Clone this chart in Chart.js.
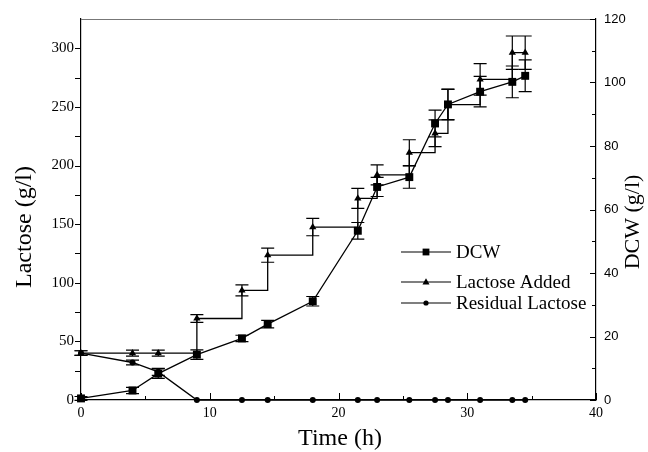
<!DOCTYPE html>
<html>
<head>
<meta charset="utf-8">
<script src="https://cdn.jsdelivr.net/npm/chart.js@4"></script>
<style>
  body { margin: 0; background: #fff; }
  canvas { display: block; }
</style>
</head>
<body>
<canvas id="chart" width="648" height="452"></canvas>
<script>
// ===================================
// DATA
// ===================================

// Sampling times (h)
const hours = [0, 4, 6, 9, 12.5, 14.5, 18, 21.5, 23, 25.5, 27.5, 28.5, 31, 33.5, 34.5];

// Dry cell weight (g/l) - right axis
const dcw = [0.5, 3.0, 8.3, 14.3, 19.4, 23.9, 31.1, 53.3, 67.1, 70.2, 87.1, 93.1, 97.1, 100.2, 102.1];
const dcwErr = [0.6, 1.0, 1.5, 1.5, 1.0, 1.2, 1.5, 2.6, 3.0, 3.5, 4.2, 4.8, 4.8, 5.0, 5.0];

// Cumulative lactose added (g/l) - left axis
const lactoseAdded = [40, 40, 40, 69.5, 93.5, 123.5, 147.5, 172, 192, 211, 227.5, 252, 273.5, 296.3, 296.3];
const lactoseAddedErr = [2, 2.5, 2.5, 3.3, 4.7, 6, 7.4, 8.5, 8.5, 11, 11.4, 13, 13.4, 14.2, 14.2];

// Residual lactose (g/l) - left axis
const residualLactose = [40, 32, 24, 0, 0, 0, 0, 0, 0, 0, 0, 0, 0, 0, 0];
const residualErr = [2, 2, 3, 0, 0, 0, 0, 0, 0, 0, 0, 0, 0, 0, 0];

// Axes
const xTicksMajor = [0, 10, 20, 30, 40];
const xTicksMinor = [5, 15, 25, 35];
const leftLabels = [0, 50, 100, 150, 200, 250, 300];
const rightLabels = [0, 20, 40, 60, 80, 100, 120];

const seriesNames = ['DCW', 'Lactose Added', 'Residual Lactose'];

const SERIF = '"Liberation Serif", "Times New Roman", serif';
const SANS = '"Liberation Sans", Arial, sans-serif';

/**
 * Junta tempos e valores em pontos {x, y}
 */
function toPoints(values) {
    return hours.map((h, i) => ({ x: h, y: values[i] }));
}

// ===================================
// PLUGINS
// ===================================

/**
 * Barras de erro verticais com traços nas pontas
 */
const errorBars = {
    id: 'errorBars',
    afterDatasetsDraw(chart) {
        const ctx = chart.ctx;
        ctx.save();
        ctx.strokeStyle = '#000';
        ctx.lineWidth = 1.2;
        chart.data.datasets.forEach((ds, di) => {
            if (!ds.errors) return;
            const meta = chart.getDatasetMeta(di);
            const yScale = chart.scales[ds.yAxisID];
            meta.data.forEach((pt, i) => {
                const err = ds.errors[i];
                if (!err) return;
                const v = ds.data[i].y;
                const top = yScale.getPixelForValue(v + err);
                const bot = yScale.getPixelForValue(v - err);
                const x = pt.x;
                ctx.beginPath();
                ctx.moveTo(x, top); ctx.lineTo(x, bot);
                ctx.moveTo(x - 6.5, top); ctx.lineTo(x + 6.5, top);
                ctx.moveTo(x - 6.5, bot); ctx.lineTo(x + 6.5, bot);
                ctx.stroke();
            });
        });
        ctx.restore();
    }
};

/**
 * Marcas dos eixos, borda superior, títulos e legenda
 */
const frame = {
    id: 'frame',
    afterDraw(chart) {
        const { ctx, chartArea: a, scales } = chart;
        ctx.save();
        ctx.strokeStyle = '#000';
        ctx.lineWidth = 1;

        const seg = (x1, y1, x2, y2) => {
            ctx.beginPath();
            ctx.moveTo(x1, y1);
            ctx.lineTo(x2, y2);
            ctx.stroke();
        };

        // Borda superior cinza
        ctx.strokeStyle = '#777';
        seg(a.left, a.top + 0.5, a.right, a.top + 0.5);
        ctx.strokeStyle = '#000';

        // Eixo X: marcas para dentro
        xTicksMajor.forEach(v => {
            const px = Math.round(scales.x.getPixelForValue(v)) + 0.5;
            seg(px, a.bottom, px, a.bottom - 7);
        });
        xTicksMinor.forEach(v => {
            const px = Math.round(scales.x.getPixelForValue(v)) + 0.5;
            seg(px, a.bottom, px, a.bottom - 4);
        });

        // Eixo esquerdo: marcas para fora
        for (let v = 0; v <= 300; v += 25) {
            const py = Math.round(scales.y.getPixelForValue(v)) + 0.5;
            seg(a.left, py, a.left - 6, py);
        }

        // Eixo direito: marcas para dentro
        for (let v = 0; v <= 120; v += 10) {
            const py = Math.round(scales.y1.getPixelForValue(v)) + 0.5;
            seg(a.right, py, a.right - (v % 20 === 0 ? 6 : 4), py);
        }

        // Títulos dos eixos
        ctx.fillStyle = '#000';
        ctx.textAlign = 'center';
        ctx.textBaseline = 'middle';
        ctx.font = '24px ' + SERIF;
        ctx.fillText('Time (h)', 340, 439);

        ctx.save();
        ctx.translate(25, 227);
        ctx.rotate(-Math.PI / 2);
        ctx.fillText('Lactose (g/l)', 0, 0);
        ctx.restore();

        ctx.save();
        ctx.font = '22px ' + SERIF;
        ctx.translate(633, 222);
        ctx.rotate(-Math.PI / 2);
        ctx.fillText('DCW (g/l)', 0, 0);
        ctx.restore();

        // Legenda
        const rows = [
            { y: 252, style: 'rect', r: 3.4 },
            { y: 282, style: 'triangle', r: 3.2 },
            { y: 303, style: 'circle', r: 2.6 }
        ];
        ctx.font = '19px ' + SERIF;
        ctx.textAlign = 'left';
        rows.forEach((row, i) => {
            ctx.lineWidth = 1.2;
            seg(401, row.y, 451, row.y);
            drawMarker(ctx, row.style, 426, row.y, row.r);
            ctx.fillText(seriesNames[i], 456, row.y + 1);
        });

        ctx.restore();
    }
};

function drawMarker(ctx, style, x, y, r) {
    ctx.beginPath();
    if (style === 'rect') {
        ctx.rect(x - r, y - r, 2 * r, 2 * r);
    } else if (style === 'triangle') {
        ctx.moveTo(x, y - r * 1.2);
        ctx.lineTo(x + r * 1.1, y + r * 0.8);
        ctx.lineTo(x - r * 1.1, y + r * 0.8);
        ctx.closePath();
    } else {
        ctx.arc(x, y, r, 0, Math.PI * 2);
    }
    ctx.fill();
}

// ===================================
// GRÁFICO
// ===================================

const ctx = document.getElementById('chart');

new Chart(ctx, {
    type: 'line',
    data: {
        datasets: [
            {
                label: seriesNames[0],
                data: toPoints(dcw),
                errors: dcwErr,
                yAxisID: 'y1',
                clip: false,
                borderColor: '#000',
                borderWidth: 1.3,
                pointStyle: 'rect',
                pointRadius: 5.6,
                pointBackgroundColor: '#000',
                pointBorderWidth: 0,
                tension: 0
            },
            {
                label: seriesNames[1],
                data: toPoints(lactoseAdded),
                errors: lactoseAddedErr,
                yAxisID: 'y',
                clip: false,
                stepped: 'before',
                borderColor: '#000',
                borderWidth: 1.3,
                pointStyle: 'triangle',
                pointRadius: 4.2,
                pointBackgroundColor: '#000',
                pointBorderWidth: 0
            },
            {
                label: seriesNames[2],
                data: toPoints(residualLactose),
                errors: residualErr,
                yAxisID: 'y',
                clip: false,
                borderColor: '#000',
                borderWidth: 1.3,
                pointStyle: 'circle',
                pointRadius: 3,
                pointBackgroundColor: '#000',
                pointBorderWidth: 0,
                tension: 0
            }
        ]
    },
    options: {
        responsive: false,
        devicePixelRatio: 1,
        animation: false,
        layout: {
            padding: { top: 19, left: 0, right: 0, bottom: 0 }
        },
        plugins: {
            legend: { display: false },
            tooltip: { enabled: false }
        },
        scales: {
            x: {
                type: 'linear',
                position: 'bottom',
                min: 0,
                max: 40,
                afterFit: s => { s.height = 52; },
                grid: { display: false, drawTicks: false },
                border: { display: true, color: '#000', width: 1.2 },
                ticks: {
                    stepSize: 10,
                    padding: 5,
                    color: '#000',
                    font: { family: SERIF, size: 14 }
                }
            },
            y: {
                type: 'linear',
                position: 'left',
                min: 0,
                max: 325,
                afterFit: s => { s.width = 81; },
                afterBuildTicks: s => {
                    s.ticks = leftLabels.map(v => ({ value: v }));
                },
                grid: { display: false, drawTicks: false },
                border: { display: true, color: '#000', width: 1.2 },
                ticks: {
                    padding: 7,
                    color: '#000',
                    font: { family: SERIF, size: 15 }
                }
            },
            y1: {
                type: 'linear',
                position: 'right',
                min: 0,
                max: 120,
                afterFit: s => { s.width = 52; },
                afterBuildTicks: s => {
                    s.ticks = rightLabels.map(v => ({ value: v }));
                },
                grid: { display: false, drawTicks: false },
                border: { display: true, color: '#000', width: 1.2 },
                ticks: {
                    padding: 8,
                    color: '#000',
                    font: { family: SANS, size: 13 }
                }
            }
        }
    },
    plugins: [errorBars, frame]
});
</script>
</body>
</html>
